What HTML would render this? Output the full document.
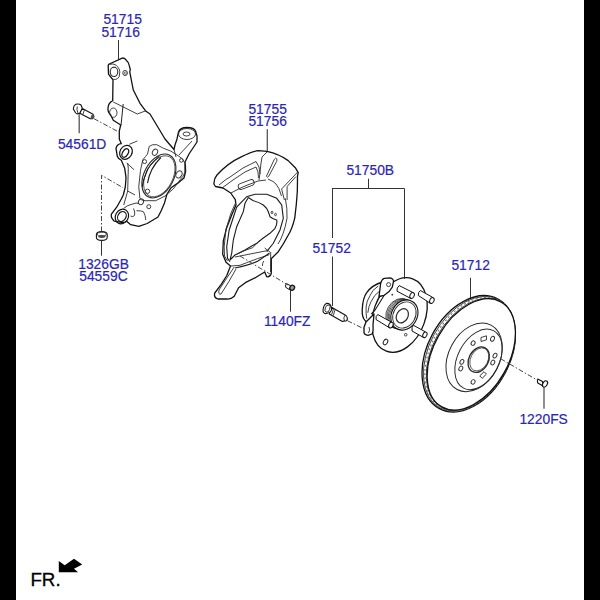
<!DOCTYPE html>
<html><head><meta charset="utf-8">
<style>
html,body{margin:0;padding:0;background:#000;}
body{width:600px;height:600px;overflow:hidden;position:relative;}
#pg{position:absolute;left:16px;top:0;width:568px;height:600px;background:#fff;}
svg{position:absolute;left:0;top:0;}
.t{font-family:"Liberation Sans",sans-serif;font-size:14.4px;fill:#2a26b4;stroke:#2a26b4;stroke-width:0.2;}
.l{stroke:#1a1a1a;stroke-width:1.1;fill:none;}
.d{stroke:#333;stroke-width:0.9;fill:none;stroke-dasharray:3 2;}
.p{stroke:#111;stroke-width:1.3;fill:#fff;stroke-linejoin:round;}
.q{stroke:#2a2a2a;stroke-width:0.9;fill:none;}
</style></head>
<body>
<div id="pg"></div>
<svg width="600" height="600" viewBox="0 0 600 600">
<!-- labels -->
<text class="t" transform="translate(103.4 23.5) scale(0.96 1)" x="0" y="0">51715</text>
<text class="t" transform="translate(101.4 36.5) scale(0.96 1)" x="0" y="0">51716</text>
<text class="t" transform="translate(57.9 148.7) scale(0.96 1)" x="0" y="0">54561D</text>
<text class="t" transform="translate(78.2 268.9) scale(0.96 1)" x="0" y="0">1326GB</text>
<text class="t" transform="translate(79.2 281.3) scale(0.96 1)" x="0" y="0">54559C</text>
<text class="t" transform="translate(248.4 113.6) scale(0.96 1)" x="0" y="0">51755</text>
<text class="t" transform="translate(248.4 126.0) scale(0.96 1)" x="0" y="0">51756</text>
<text class="t" transform="translate(263.9 326.0) scale(0.96 1)" x="0" y="0">1140FZ</text>
<text class="t" transform="translate(346.4 175.0) scale(0.96 1)" x="0" y="0">51750B</text>
<text class="t" transform="translate(312.4 253.4) scale(0.96 1)" x="0" y="0">51752</text>
<text class="t" transform="translate(451.4 270.4) scale(0.96 1)" x="0" y="0">51712</text>
<text class="t" transform="translate(519.4 424.0) scale(0.96 1)" x="0" y="0">1220FS</text>
<text x="30.4" y="585.9" style="font-family:'Liberation Sans',sans-serif;font-size:18.8px;fill:#000;stroke:#000;stroke-width:0.3">FR.</text>
<polygon points="58.8,561.1 64.7,565.2 74,558.75 82.2,564.6 74,568.7 78.1,572.2 58.8,572.2" fill="#000"/>


<g id="knuckle">
<path class="p" d="M108.75 64.25 L122.2 58.1 Q124.5 57.5 126.25 60.2 Q129 62.5 129.2 65.4 L130.3 69.5 L129.75 71.8 L132.7 87 L133.3 90 L140 103.3 L146 111.3 L150 114 L165 139 L174 149.5 L175 145 L177 139 L178.5 132 Q180 127.5 187 127.5 Q194 127.5 195.5 131 L197 136 L197 142 L193 148 L189 154 L185 162 Q185.6 166 185.6 171.5 L184 178 L177.5 183.4 L171 187.8 L167 194 L164.5 202.9 L161.3 210.5 L158 217 L152.6 220.3 L147.2 223.5 L138.8 226.4 L130.7 224.7 L126.6 221.2 Q124 223 121.3 222.3 L114.3 221.2 Q110.5 218 111.4 214.2 L116.7 207.2 L121.3 199 L123.3 195 L125.3 187 L126 177.7 L124.7 168.3 L121.3 160.3 Q118 158.5 117.3 156.3 L116 148.3 Q117 144 121.3 143.7 L119.3 139 L119.3 131 L120.7 125 L113.3 120.3 L110.7 115 Q107.5 112 108 108 Q108.3 103 112.7 100.7 L113 80 Q112.5 79 111.7 78.25 L108.5 74.2 L108.2 66 Q108.2 64.8 108.75 64.25 Z"/>
<path class="q" d="M109.5 64.5 Q112.5 63.6 114 64.25 Q116.5 65 117.5 66.6 Q119.8 69 119.8 71.8 L119.25 76.5 Q118 79 115.75 79.4 Q113 79.8 111.7 78.25"/>
<ellipse class="q" style="stroke-width:1.1" cx="114" cy="71.8" rx="3.8" ry="4.7"/>
<ellipse class="q" cx="125.1" cy="73" rx="2.3" ry="2.6"/>
<ellipse class="q" style="stroke-width:0.6" cx="125.3" cy="73.2" rx="1" ry="1.3"/>
<ellipse class="q" cx="113.3" cy="112.7" rx="3.7" ry="4.7"/>
<path class="q" d="M113.3 102 L137.3 114 L146 110.7  "/>
<ellipse class="q" style="stroke-width:1.2;stroke:#111" cx="126" cy="152.3" rx="6" ry="7.3" transform="rotate(30 126 152.3)"/>
<ellipse class="q" style="stroke-width:1.2;stroke:#111" cx="125.3" cy="153" rx="2.7" ry="4.7" transform="rotate(30 125.3 153)"/>
<path stroke="#222" stroke-width="1" fill="none" d="M123.2 104 L121 125.3"/>
<path class="q" d="M127.7 163 L128.3 168.3 L127.7 191 L123.7 205 M127.7 191 L135 195 M129.3 144.3 L137.3 141 M126.7 163 L134 169.7 M174 149.5 L176 157 M179 155 L192 141"/>
<ellipse class="q" cx="187" cy="134" rx="8.5" ry="5.5"/>
<ellipse class="q" cx="186.5" cy="134" rx="3.5" ry="2"/>
<path class="q" d="M139.9 198.3 L138.75 186.7 L140.5 170.3 L142.8 159.8 Q146 156 147.5 154 L149.25 146.4 Q152 144 156.8 144.7 L163.25 148.2 L170.8 151.1 L179 156.3 Q184 159 184.8 163.3 L184.8 172.7 Q183 177 180.2 179.7 L173.2 189 L165 196 L155.7 200.7 L145.2 200.7 Q141 200.5 139.9 198.3"/>
<ellipse class="q" style="stroke-width:1.1" cx="158.9" cy="176" rx="14.9" ry="23.4" transform="rotate(27.3 158.9 176)"/>
<ellipse class="q" style="stroke-width:0.7" cx="159.3" cy="176.3" rx="13.5" ry="22" transform="rotate(27.3 159.3 176.3)"/>
<path class="l" d="M159.2 156.3 Q148 166 146.3 172.7 Q143 180 142.25 186.7 M160.9 157.5 Q150 168 147.5 183.2"/>
<ellipse class="q" style="stroke-width:1.2;stroke:#111" cx="121.9" cy="216.5" rx="6.4" ry="7.6" transform="rotate(30 121.9 216.5)"/>
<ellipse class="q" style="stroke-width:1.2;stroke:#111" cx="121.9" cy="216.5" rx="4" ry="5.2" transform="rotate(30 121.9 216.5)"/>
<path class="q" d="M123.7 208.3 Q128 205 131 204.5 L136 203 L139 203.5 M133.5 208.5 Q135.5 212 134.5 215.5 Q133 217.5 130.5 216 M136.5 210.7 Q141 210.5 143.5 211.8 Q145.5 215 145.8 220"/>
<ellipse class="q" cx="155" cy="152.25" rx="2.5" ry="3.2" transform="rotate(30 155 152.25)"/>
<circle class="q" cx="144.6" cy="161.6" r="2"/>
<circle class="q" cx="181.3" cy="160.4" r="1.8"/>
<ellipse class="q" cx="179" cy="174.4" rx="2.8" ry="3.8" transform="rotate(30 179 174.4)"/>
<circle class="q" cx="147.5" cy="191.3" r="2.2"/>
<ellipse class="q" cx="141" cy="201.8" rx="2.5" ry="3" transform="rotate(30 141 201.8)"/>
<circle class="q" cx="148.8" cy="206.7" r="2"/>
</g>


<g id="shield">
<path class="p" d="M214 184.25 Q213.5 179 217 175 Q228 163 241.7 156.7 Q252 151.5 258.5 150.7 L267 151.4 Q279 154 288.2 160.6 L295.3 167.7 L298.2 172.6 L297.5 176 Q297.5 185 297.3 191.7 Q296.5 205 294.7 218.3 Q292 229 288.3 235 Q283 245 278.3 251.7 L271.7 258.3 L271.3 258.7 L271.3 273.3 Q270 277.5 266.7 276.7 L264.7 272 L256 277.3 L245.3 282.7 L238.6 287.7 L234.25 296.3 Q231 299.5 226.7 299 L218 299 Q213.5 297.5 214.75 293 L221.25 284.4 L226.7 275.75 L230.5 266 L226 262.3 L222.7 254.3 L223.3 241 L226.7 227.7 L232 214.3 L236 205 L235.3 199.7 L230.7 193 L223 188 L215.5 186.5 Z"/>
<path class="l" style="stroke-width:1.1" d="M230 261.7 L227.5 258.3 L226.7 246.7 L229.2 230 L236.7 207 L246.7 196.7 L255 194.2 L266.7 194.2 L276.7 198.3 L281.7 205 L283.3 218.3 L280 230 L273.3 243.3 L266.7 251.7"/>
<path class="q" d="M235.5 203 L231 213 L225.8 230 L224.2 246.7 L224.5 256 L227.5 261 M285.3 198.3 Q287.5 208 287 218.3 Q284 235 278 244"/>
<path class="l" style="stroke-width:1.1" d="M248.3 197.5 L253.3 200.8 Q259 202 263.3 205 Q267 208 268.3 211.7 L270 216.7 Q273 219 276.7 220 Q277.5 224 275 228.3 L270 233.3 Q263 238 256.7 243.3 Q250 247 245 250 L235 255 L230 260 M248.3 197.5 L245 203.3 L243.3 211.7 L236.7 226.7 L233.3 240 L231.7 253.3 L230 260"/>
<path class="q" d="M219 185 Q226 179 230 177 L243 168 L256 161.5 L259 167 L260 174 M222 188 L233 180 L245 172 L256 167 L258 172 L258.5 178 M231 193 Q240 188 245 186 L258 181 L266 180 M267 152 L262 157 Q260.5 165 260 173 L259 180 M276.6 158.6 Q277.4 160 276.6 161.5 L268.6 176.5 Q267.4 178 266.4 176.3 L274.4 159.2 Q275.5 157.3 276.6 158.6 Z M268 179 Q274 181.5 276 184 Q279 187 281.5 196 M297.7 172 L281.6 189 L284.4 200 M295.8 176.7 L287.1 186.5 L287.1 200"/>
<rect class="q" x="237.9" y="181.5" width="16.6" height="6" rx="3" transform="rotate(-21 246.2 184.5)"/>
<path class="q" d="M269.3 254.7 L257.3 258.7 L246.7 262.7 L240 265.3 L231 266 M264.7 248 L270 252 M270.7 252 L270.5 272 M237.5 254 L244 250.8 L252.7 247.6 L260.3 240 M263.8 261 Q262 263.5 262.5 266 M235 257 Q250 254 268 250.5"/>
<path class="l" d="M235 268 Q250 265 258 261 Q264 257 269.5 253"/>
<path class="q" d="M234.25 267 Q226 279 219 290 Q218 295 221 294 Q229 282 236 269"/>
<ellipse class="q" cx="272" cy="212.5" rx="0.9" ry="1.2"/><ellipse class="q" cx="275.5" cy="214.5" rx="0.9" ry="1.2"/>
</g>

<g id="screws">
<path class="p" style="stroke-width:1" d="M286.6 283.6 L291 286 L289.8 289.8 L285.6 287.2 Q285.2 284.6 286.6 283.6 Z"/>
<ellipse cx="292.2" cy="287.7" rx="2.3" ry="2.6" transform="rotate(30 292.2 287.7)" fill="#999" stroke="#111" stroke-width="1.2"/>
<path class="p" style="stroke-width:1.1" d="M537.8 379 L542.5 381.5 L543 386 L537.8 383 Q537 381 537.8 379 Z"/>
<ellipse class="p" style="stroke-width:1.1" cx="545" cy="384" rx="2.2" ry="3.4" transform="rotate(30 545 384)"/>
<path class="p" style="stroke-width:1.1" d="M82 108.3 L93 114.3 Q95 117 92.5 118.7 L90.3 118.7 L79.7 113.3 Z"/>
<path class="p" style="stroke-width:1.1" d="M75.7 104.3 Q79 103.3 81 105 L82.3 108.3 L79.7 113.3 Q77 114.5 75.7 113 L73.3 109 Q73.5 105.5 75.7 104.3 Z"/>
<path class="q" d="M77.3 106.5 Q76.3 110 78 113 M84.5 109.8 L82.7 114.8"/>
<ellipse cx="92.3" cy="116.7" rx="1.6" ry="1.9" fill="#555" transform="rotate(30 92.3 116.7)"/>
<path class="p" style="stroke-width:1.1" d="M96.4 234.5 Q96.5 231.7 101.8 231.5 Q107.2 231.7 107.2 234.5 L107.2 237.5 Q107 240.4 101.8 240.4 Q96.5 240.4 96.4 237.5 Z"/>
<ellipse class="q" cx="101.8" cy="234.3" rx="4.4" ry="2.2"/>
<ellipse cx="101.8" cy="236.5" rx="3" ry="0.9" fill="none" stroke="#444" stroke-width="1.1"/>
</g>

<g id="hub">
<path class="p" style="stroke-width:1.1" d="M331.6 307.3 L346 315.5 Q348.5 318.5 346.5 320.8 L342.4 321.4 L329.3 313.9 Z"/>
<path class="q" d="M344.8 315.3 Q343 318 344.5 321 M333.6 308.5 L331.6 314.8 M335.2 309.4 L333.2 315.7"/>
<path class="p" style="stroke-width:1.1" d="M326.5 303.4 Q330 303 331.3 307.1 L331.6 309.5 Q331 313 325.4 313.6 Q322.5 313 323.1 309.3 Q323.8 304.5 326.5 303.4 Z"/>
<ellipse class="q" cx="327.5" cy="308.6" rx="2.3" ry="3.8" transform="rotate(20 327.5 308.6)"/>
<path class="p" d="M382.7 282 Q372 285 366.7 292.7 Q362.7 298 362.2 310 Q362 318 365.3 320.7 L368 323.3 L385 300 Z"/>
<path class="q" d="M378.3 286 Q372 290 370.2 295.3 Q366.5 301 366.1 307 Q365.8 313 366.7 318.7 M380 290.7 Q374 295 371.3 301.2 Q368.5 306 367.8 312.8"/>
<ellipse class="p" cx="399.5" cy="315" rx="26" ry="38.5" transform="rotate(20 399.5 315)"/>
<path class="p" d="M380.7 283.1 Q382 279 384.2 278.4 L390 277.8 Q393.5 278.5 393.5 281.3 L392.3 287.2 L388.8 291.8 L384.2 295.3 L379 296.5 Z"/>
<circle class="q" cx="388.6" cy="284.6" r="2"/>
<path class="l" d="M384.2 295.3 L374.8 310.5 L371.3 314"/>
<path class="p" d="M366 322 L371 317 L374 314 L373 325 Q373.5 332 372 334 L368 335.3 Q364.5 335 364 332.7 L364 327.3 Z"/>
<path class="q" d="M369 327 Q370.5 330 368.5 333"/>
<ellipse class="q" style="stroke-width:0.8" cx="399.4" cy="313.5" rx="12.8" ry="15.7" transform="rotate(30 399.4 313.5)"/>
<ellipse class="q" style="stroke-width:0.7" cx="400.6" cy="313.9" rx="12.8" ry="15.7" transform="rotate(30 400.6 313.9)"/>
<ellipse class="q" style="stroke-width:0.7" cx="401.8" cy="314.3" rx="12.8" ry="15.7" transform="rotate(30 401.8 314.3)"/>
<ellipse class="q" style="stroke-width:0.7" cx="403" cy="314.6" rx="12.8" ry="15.7" transform="rotate(30 403 314.6)"/>
<ellipse class="p" style="stroke-width:1.1" cx="404.4" cy="315" rx="12.8" ry="15.7" transform="rotate(30 404.4 315)"/>
<ellipse class="q" cx="404.4" cy="315" rx="11" ry="13.7" transform="rotate(30 404.4 315)"/>
<ellipse class="q" style="stroke-width:1.2" cx="402.3" cy="315.8" rx="5.6" ry="7.5" transform="rotate(30 402.3 315.8)"/>
<path class="p" style="stroke-width:1" d="M399.2 285.6 L412.8 292.4 L411 298.6 L397 291.2 Q396.5 287.5 399.2 285.6 Z"/>
<ellipse class="p" style="stroke-width:1" cx="412.1" cy="295.5" rx="2.1" ry="3.1" transform="rotate(25 412.1 295.5)"/>
<path class="p" style="stroke-width:1" d="M420.4 290.5 L432.6 297.3 L430.8 303.6 L418.3 295.5 Q418 292 420.4 290.5 Z"/>
<ellipse class="p" style="stroke-width:1" cx="431.9" cy="300.5" rx="2.1" ry="3.1" transform="rotate(25 431.9 300.5)"/>
<path class="p" style="stroke-width:1" d="M377.7 314.5 L391.6 322.2 L389.8 328 L376 319.5 Q375.5 316 377.7 314.5 Z"/>
<ellipse class="p" style="stroke-width:1" cx="390.9" cy="325.1" rx="2.1" ry="3" transform="rotate(25 390.9 325.1)"/>
<path class="p" style="stroke-width:1" d="M413.3 325.2 L425.6 332 L423.8 337.6 L412 331 Q411.5 327 413.3 325.2 Z"/>
<ellipse class="p" style="stroke-width:1" cx="424.9" cy="334.8" rx="2" ry="2.9" transform="rotate(25 424.9 334.8)"/>
<ellipse class="q" style="stroke-width:1" cx="385.5" cy="342" rx="2" ry="3" transform="rotate(30 385.5 342)"/>
<circle cx="392.3" cy="294.7" r="0.9" fill="#333"/>
<circle class="q" cx="405.7" cy="334.7" r="1.3"/>
</g>

<g id="disc">
<ellipse class="p"  cx="468.7" cy="353.8" rx="41.2" ry="62.1" transform="rotate(28.1 468.7 353.8)"/>
<ellipse class="q" style="stroke-width:0.8" cx="469.4" cy="353.9" rx="40.3" ry="61.6" transform="rotate(28.4 469.4 353.9)"/>
<ellipse cx="470.1" cy="354.1" rx="39.2" ry="61.1" transform="rotate(28.8 470.1 354.1)" fill="none" stroke="#777" stroke-width="1.2" stroke-dasharray="1.8 2.4"/>
<ellipse class="q" style="stroke-width:0.8" cx="470.8" cy="354.3" rx="38.3" ry="60.6" transform="rotate(29.1 470.8 354.3)"/>
<ellipse class="p"  cx="471.3" cy="354.4" rx="37.6" ry="60.2" transform="rotate(29.4 471.3 354.4)"/>
<ellipse class="q" style="stroke-width:1" cx="474.1" cy="357.3" rx="25.4" ry="36.4" transform="rotate(27.8 474.1 357.3)"/>
<ellipse class="q" style="stroke-width:1" cx="478.5" cy="359.4" rx="20.7" ry="32.4" transform="rotate(27.5 478.5 359.4)"/>
<ellipse class="q" style="stroke-width:1.3" cx="478.7" cy="359.7" rx="9.8" ry="13.4" transform="rotate(28 478.7 359.7)"/>
<ellipse class="q" style="stroke-width:0.7" cx="479.3" cy="359.4" rx="8.6" ry="12.2" transform="rotate(28 479.3 359.4)"/>
<ellipse class="q" cx="473.1" cy="343.1" rx="1.9" ry="2.3" transform="rotate(30 473.1 343.1)"/>
<ellipse class="q" cx="492.5" cy="338.75" rx="1.8" ry="2.6" transform="rotate(30 492.5 338.75)"/>
<ellipse class="q" cx="495" cy="355.6" rx="1.8" ry="2.5" transform="rotate(30 495 355.6)"/><ellipse class="q" cx="492.8" cy="362.5" rx="1.8" ry="2.5" transform="rotate(30 492.8 362.5)"/>
<ellipse class="q" cx="461.9" cy="361.9" rx="1.8" ry="2.5" transform="rotate(30 461.9 361.9)"/><ellipse class="q" cx="460.8" cy="368.5" rx="1.8" ry="2.5" transform="rotate(30 460.8 368.5)"/>
<ellipse class="q" cx="473.1" cy="381.9" rx="1.9" ry="2.3" transform="rotate(30 473.1 381.9)"/>
<path class="q" d="M481 337.5 L486.5 335.8 L486.5 339.8 L481 341.5 Z"/>
<rect class="q" x="480.1" y="373.3" width="6" height="3.4" transform="rotate(-45 483.1 375)"/>
</g>

<!-- leader lines -->
<path stroke="#333" stroke-width="1" fill="none" d="M118.5 40V59 M101.5 240.3V255.7 M290.5 290V311.7 M368.5 178.7V188 M332.5 188.5H404.5V279 M332.5 188V238 M332.5 256.5V306 M470.5 277.8V298"/>
<path stroke="#555" stroke-width="1.3" fill="none" d="M79.2 114.3V133.3 M267.3 129.2V151 M544 386.5V408.7"/>
<!-- dashed lines -->
<path stroke="#444" stroke-width="1" fill="none" stroke-dasharray="5 2 1.5 2" d="M94 118.7L118.7 132 M101.5 231.5V175.3 L123 187.7"/>
<path stroke="#444" stroke-width="1" fill="none" stroke-dasharray="5 2 1.5 2" d="M240 256L288 285 M347.5 320.7L364.8 329.3 M500.6 358.7L537 380"/>

</svg>
</body></html>
